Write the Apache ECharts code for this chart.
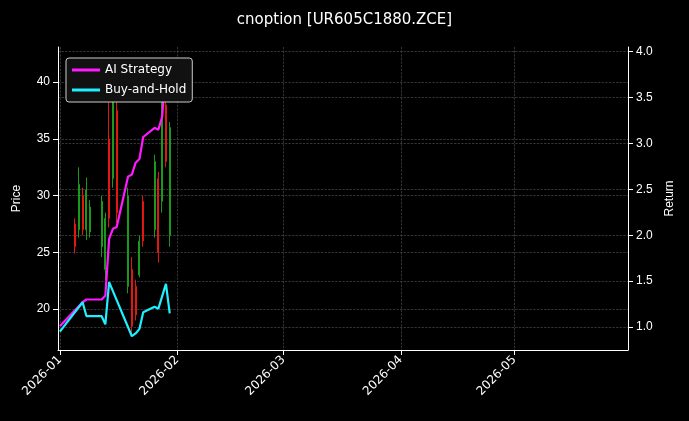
<!DOCTYPE html>
<html><head><meta charset="utf-8">
<script src="https://cdn.jsdelivr.net/npm/echarts@6/dist/echarts.min.js"></script>
<style>html,body{margin:0;background:#000}#c{width:689px;height:421px}</style>
</head><body><div id="c"></div>
<script>
const candleDates=['2026-01-05','2026-01-06','2026-01-07','2026-01-08','2026-01-09','2026-01-12','2026-01-13','2026-01-14','2026-01-15','2026-01-16','2026-01-19','2026-01-20','2026-01-21','2026-01-22','2026-01-23','2026-01-26','2026-01-27','2026-01-28','2026-01-29','2026-01-30'];
// [open, close, low, high]
const ohlc=[[27.5,25.5,24.9,28.0],[27.0,31.0,26.3,32.5],[30.0,27.0,26.5,30.7],[27.0,30.5,26.1,31.6],[26.8,29.0,26.3,29.6],[25.5,29.5,24.6,30.0],[23.5,28.0,22.6,28.5],[35.0,28.0,27.2,39.3],[31.5,38.5,30.7,39.3],[37.5,28.5,27.6,38.4],[22.0,30.0,21.4,30.7],[23.5,18.5,17.9,24.6],[22.0,19.5,19.0,22.6],[23.0,26.0,22.8,26.5],[29.5,26.0,25.5,30.0],[27.0,33.0,26.3,33.6],[31.5,25.0,24.1,32.1],[29.5,38.5,28.5,39.3],[38.0,33.0,32.5,38.4],[26.5,36.0,25.5,36.5]];
const aiDates=['2026-01-01','2026-01-07','2026-01-08','2026-01-12','2026-01-13','2026-01-14','2026-01-15','2026-01-16','2026-01-19','2026-01-20','2026-01-21','2026-01-22','2026-01-23','2026-01-26','2026-01-27','2026-01-28','2026-01-29'];
const aiRet=[1.01,1.27,1.30,1.30,1.34,1.96,2.07,2.09,2.64,2.66,2.79,2.83,3.07,3.17,3.15,3.29,3.84];
const bhDates=['2026-01-01','2026-01-07','2026-01-08','2026-01-12','2026-01-13','2026-01-14','2026-01-20','2026-01-21','2026-01-22','2026-01-23','2026-01-26','2026-01-27','2026-01-29','2026-01-30'];
const bhRet=[0.95,1.27,1.12,1.12,1.03,1.49,0.90,0.93,0.98,1.16,1.22,1.20,1.47,1.15];
const priceTicks=[20,25,30,35,40];
const retTicks=[1.0,1.5,2.0,2.5,3.0,3.5,4.0];
const col='#fff', grid={show:true,lineStyle:{color:'#555',type:'dashed',width:0.6}};
const chart=echarts.init(document.getElementById('c'));
chart.setOption({
 backgroundColor:'#000',animation:false,
 title:{text:'cnoption [UR605C1880.ZCE]',left:'center',top:8,textStyle:{color:col,fontSize:15,fontWeight:'normal',fontFamily:'DejaVu Sans'}},
 legend:{left:66,top:58,orient:'vertical',itemWidth:28,itemHeight:3,itemGap:8,padding:[6,6,6,6],borderColor:'#ccc',borderWidth:1,borderRadius:3,backgroundColor:'#111',textStyle:{color:col,fontSize:12,fontFamily:'DejaVu Sans'},data:[{name:'AI Strategy',icon:'rect'},{name:'Buy-and-Hold',icon:'rect'}]},
 grid:{left:58,right:61,top:47,bottom:71},
 xAxis:{type:'time',min:+new Date('2025-12-31T12:00:00'),max:+new Date('2026-05-31'),
  axisLine:{lineStyle:{color:col}},axisTick:{lineStyle:{color:col}},splitLine:grid,
  axisLabel:{color:col,rotate:45,fontSize:12,fontFamily:'DejaVu Sans',formatter:v=>{const d=new Date(v);return d.getFullYear()+'-'+String(d.getMonth()+1).padStart(2,'0');}},
  splitNumber:6},
 yAxis:[{type:'value',min:16.4,max:43.1,name:'Price',nameLocation:'middle',nameGap:35,nameTextStyle:{color:col,fontSize:12},
  axisLine:{show:true,lineStyle:{color:col}},axisTick:{show:true,customValues:priceTicks},axisLabel:{color:col,fontSize:12,customValues:priceTicks},splitLine:grid},
  {type:'value',min:0.75,max:4.05,name:'Return',nameLocation:'middle',nameGap:35,nameTextStyle:{color:col,fontSize:12},
  axisLine:{show:true,lineStyle:{color:col}},axisTick:{show:true,customValues:retTicks},axisLabel:{color:col,fontSize:12,customValues:retTicks,formatter:v=>v.toFixed(1)},splitLine:grid}],
 series:[
  {type:'candlestick',data:candleDates.map((d,i)=>[d,...ohlc[i]]),barWidth:1.5,
   itemStyle:{color:'#1a9a1a',color0:'#e0180f',borderColor:'#1a9a1a',borderColor0:'#e0180f',borderWidth:1}},
  {name:'AI Strategy',type:'line',yAxisIndex:1,symbol:'none',data:aiDates.map((d,i)=>[d,aiRet[i]]),lineStyle:{color:'#ff1aff',width:2.2},itemStyle:{color:'#ff1aff'}},
  {name:'Buy-and-Hold',type:'line',yAxisIndex:1,symbol:'none',data:bhDates.map((d,i)=>[d,bhRet[i]]),lineStyle:{color:'#1ff0ff',width:2.2},itemStyle:{color:'#1ff0ff'}}
 ]});
</script></body></html>
